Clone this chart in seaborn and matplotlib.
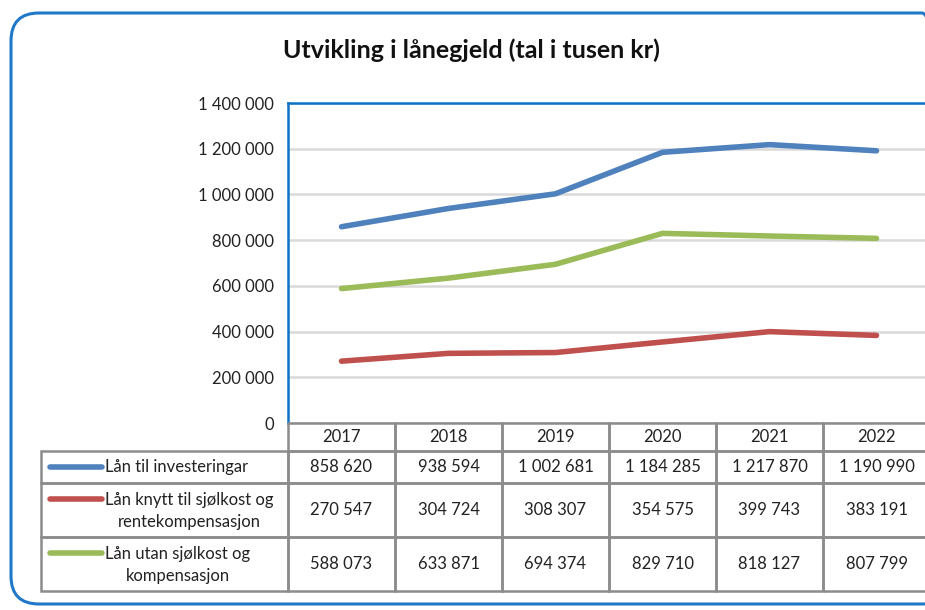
import pandas as pd
import seaborn as sns
import matplotlib.pyplot as plt
from matplotlib.patches import FancyBboxPatch, Rectangle
from matplotlib.lines import Line2D
from matplotlib.ticker import FuncFormatter

# DATA (tal i tusen kr)
years = ['2017', '2018', '2019', '2020', '2021', '2022']
series_names = ['Lån til investeringar',
                'Lån knytt til sjølkost og\nrentekompensasjon',
                'Lån utan sjølkost og\nkompensasjon']
lan_investering = [858620, 938594, 1002681, 1184285, 1217870, 1190990]
lan_sjolkost = [270547, 304724, 308307, 354575, 399743, 383191]
lan_utan = [588073, 633871, 694374, 829710, 818127, 807799]
colors = ['#4f81bd', '#c0504d', '#9bbb59']
y_ticks = [0, 200000, 400000, 600000, 800000, 1000000, 1200000, 1400000]

values = [lan_investering, lan_sjolkost, lan_utan]
df = pd.DataFrame({
    'year': years * 3,
    'idx': list(range(len(years))) * 3,
    'value': lan_investering + lan_sjolkost + lan_utan,
    'serie': [s for s in series_names for _ in years],
})

sns.set_theme(style='white')
plt.rcParams['font.family'] = ['Lato', 'DejaVu Sans']

W, H = 925, 610
fig = plt.figure(figsize=(W / 100, H / 100), dpi=100)


def fx(x):
    return x / W


def fy(y):
    return 1 - y / H


def fmt(v):
    return f'{int(v):,}'.replace(',', ' ')


# OUTER ROUNDED FRAME (in inches, behind everything; right side runs off the picture)
frame = FancyBboxPatch((0.11, (H - 604) / 100), (950 - 11) / 100, (604 - 13) / 100,
                       boxstyle='round,pad=0,rounding_size=0.28',
                       transform=fig.dpi_scale_trans, facecolor='none',
                       edgecolor='#1f78c8', linewidth=2.2, zorder=-5)
fig.add_artist(frame)

# PLOT AREA
col_w = 107
left, top, bottom = 288, 103, 423
ax = fig.add_axes([fx(left), fy(bottom), fx(col_w * 6), (bottom - top) / H])
ax.set_facecolor('none')
sns.lineplot(data=df, x='idx', y='value', hue='serie', palette=colors,
             linewidth=4, legend=False, ax=ax, solid_capstyle='round')
ax.set_xlim(-0.5, 5.5)
ax.set_ylim(0, 1400000)
ax.set_yticks(y_ticks)
ax.yaxis.set_major_formatter(FuncFormatter(lambda v, p: fmt(v)))
ax.set_xticks([])
ax.set_xlabel('')
ax.set_ylabel('')
ax.tick_params(axis='y', length=0, pad=10, labelsize=12, labelcolor='#222222')
ax.grid(axis='y', color='#d9d9d9', linewidth=1.8)
ax.set_axisbelow(True)
for side in ['left', 'top']:
    ax.spines[side].set_color('#0b72c8')
    ax.spines[side].set_linewidth(1.8)
ax.spines['right'].set_visible(False)
ax.spines['bottom'].set_visible(False)

fig.text(fx(471), fy(50), 'Utvikling i lånegjeld (tal i tusen kr)',
         ha='center', va='center', fontsize=18, fontweight='bold', color='#111111')

# DATA TABLE UNDER THE CHART
grid_col = '#8c8c8c'
row_edges = [423, 451, 483, 537, 591]
label_left = 41
fs = 12


def cell(x0, y0, x1, y1):
    fig.add_artist(Rectangle((fx(x0), fy(y1)), fx(x1 - x0), (y1 - y0) / H,
                             transform=fig.transFigure, facecolor='none',
                             edgecolor=grid_col, linewidth=1.8))


for j, yr in enumerate(years):
    x0 = left + j * col_w
    cell(x0, row_edges[0], x0 + col_w, row_edges[1])
    fig.text(fx(x0 + col_w / 2), fy((row_edges[0] + row_edges[1]) / 2), yr,
             ha='center', va='center', fontsize=fs, color='#222222')

for i, name in enumerate(series_names):
    y0, y1 = row_edges[i + 1], row_edges[i + 2]
    ym = (y0 + y1) / 2
    cell(label_left, y0, left, y1)
    for j, v in enumerate(values[i]):
        x0 = left + j * col_w
        cell(x0, y0, x0 + col_w, y1)
        fig.text(fx(x0 + col_w / 2), fy(ym), fmt(v), ha='center', va='center',
                 fontsize=fs, color='#222222')
    key_y = y0 + 16
    fig.add_artist(Line2D([fx(50), fx(102)], [fy(key_y), fy(key_y)],
                          transform=fig.transFigure, color=colors[i],
                          linewidth=4, solid_capstyle='round'))
    if '\n' in name:
        fig.text(fx(105), fy(key_y - 7), name, ha='left', va='top',
                 multialignment='center', fontsize=fs, color='#222222', linespacing=1.5)
    else:
        fig.text(fx(105), fy(key_y), name, ha='left', va='center',
                 fontsize=fs, color='#222222')

plt.savefig('out.png', dpi=100)
